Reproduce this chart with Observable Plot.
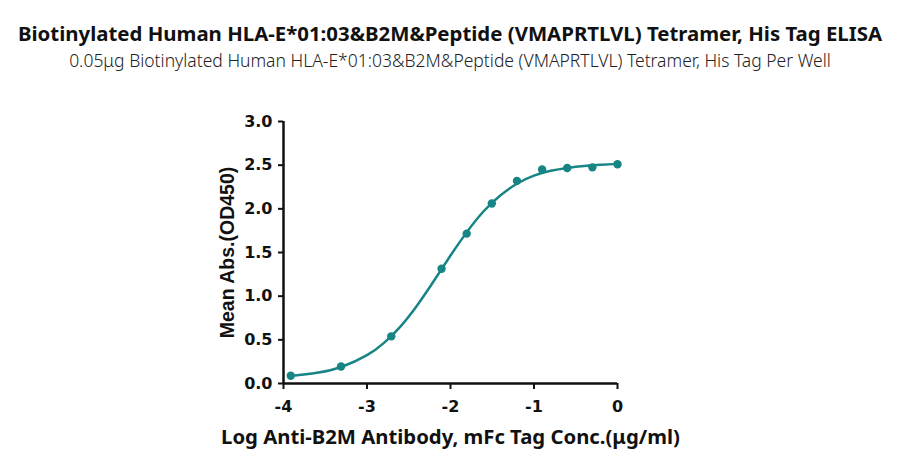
<!DOCTYPE html>
<html><head><meta charset="utf-8">
<script src="https://cdn.jsdelivr.net/npm/d3@7"></script>
<script src="https://cdn.jsdelivr.net/npm/@observablehq/plot@0.6"></script>
<style>
body{margin:0;background:#fff;}
#wrap{width:900px;height:470px;position:relative;overflow:hidden;background:#fff}
#title{position:absolute;top:19px;left:0;width:900px;text-align:center;font-family:"Noto Sans";font-weight:bold;font-size:20.4px;line-height:28px;color:#111;white-space:nowrap}
#sub{position:absolute;top:49px;left:0;width:900px;text-align:center;font-family:"Noto Sans";font-weight:300;font-size:17.5px;line-height:22px;color:#222;white-space:nowrap}
#chart{position:absolute;top:70px;left:0}
</style></head>
<body><div id="wrap">
<div id="title">Biotinylated Human HLA-E*01:03&amp;B2M&amp;Peptide (VMAPRTLVL) Tetramer, His Tag ELISA</div>
<div id="sub">0.05μg Biotinylated Human HLA-E*01:03&amp;B2M&amp;Peptide (VMAPRTLVL) Tetramer, His Tag Per Well</div>
<div id="chart"></div>
</div>
<script>
const logConc = [-3.913, -3.311, -2.709, -2.107, -1.806, -1.505, -1.204, -0.903, -0.602, -0.301, 0];
const meanAbs = [0.088, 0.195, 0.54, 1.314, 1.716, 2.061, 2.32, 2.45, 2.467, 2.475, 2.51];
const fitX = [-3.913, -3.6, -3.3, -3.0, -2.8, -2.6, -2.4, -2.2, -2.0, -1.8, -1.6, -1.4, -1.2, -1.0, -0.8, -0.6, -0.4, -0.2, 0];
const fitY = [0.085, 0.122, 0.192, 0.324, 0.462, 0.652, 0.893, 1.173, 1.465, 1.739, 1.975, 2.155, 2.29, 2.38, 2.435, 2.468, 2.49, 2.504, 2.514];
const xTicks = [-4, -3, -2, -1, 0];
const yTicks = [0, 0.5, 1.0, 1.5, 2.0, 2.5, 3.0];
const xLabel = "Log Anti-B2M Antibody, mFc Tag Conc.(μg/ml)";
const yLabel = "Mean Abs.(OD450)";

const points = logConc.map((x, i) => ({x, y: meanAbs[i]}));
const fit = fitX.map((x, i) => ({x, y: fitY[i]}));
const teal = "#178585";

const plot = Plot.plot({
  width: 900, height: 400,
  marginLeft: 283, marginRight: 283, marginTop: 51, marginBottom: 87,
  style: {fontFamily: "DejaVu Sans", fontWeight: "bold", fontSize: "16px", color: "#111", background: "transparent"},
  x: {domain: [-4, 0]},
  y: {domain: [0, 3]},
  marks: [
    Plot.axisX({ticks: xTicks, tickSize: 6, strokeWidth: 2, tickPadding: 11, tickFormat: d => String(d), label: null, fontSize: 16, fontWeight: "bold", fill: "#111"}),
    Plot.axisY({ticks: yTicks, tickSize: 5, strokeWidth: 2, tickPadding: 6, tickFormat: d3.format(".1f"), label: null, fontSize: 16, fontWeight: "bold", fill: "#111"}),
    Plot.ruleX([-4], {y1: 0, y2: 3, stroke: "#111", strokeWidth: 2.5}),
    Plot.ruleY([0], {x1: -4, x2: 0, stroke: "#111", strokeWidth: 2.5}),
    Plot.line(fit, {x: "x", y: "y", curve: "natural", stroke: teal, strokeWidth: 2.5}),
    Plot.dot(points, {x: "x", y: "y", r: 4.2, fill: teal, stroke: "none"}),
    Plot.text([xLabel], {frameAnchor: "bottom", dy: 60, fontFamily: "Noto Sans", fontWeight: "bold", fontSize: 20.3, fill: "#111"}),
    Plot.text([yLabel], {frameAnchor: "left", textAnchor: "middle", dx: -56, rotate: -90, fontFamily: "Liberation Sans", fontWeight: "bold", fontSize: 19.5, fill: "#111"})
  ]
});
document.getElementById("chart").appendChild(plot);
</script>
</body></html>
